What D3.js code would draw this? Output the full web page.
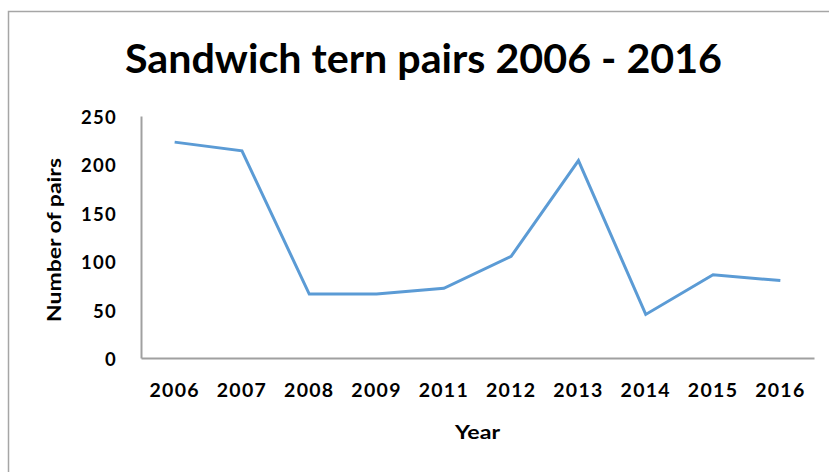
<!DOCTYPE html>
<html>
<head>
<meta charset="utf-8">
<script src="https://cdn.jsdelivr.net/npm/d3@7"></script>
<style>
  html, body { margin: 0; padding: 0; background: #fff; }
  svg { display: block; }
  text { font-family: Lato, "Open Sans", "Liberation Sans", sans-serif; font-weight: bold; fill: #000; }
</style>
</head>
<body>
<svg id="chart" width="829" height="472"></svg>
<script>
// Sandwich tern breeding pairs by year
const years = ["2006", "2007", "2008", "2009", "2011", "2012", "2013", "2014", "2015", "2016"];
const pairs = [223, 214, 66, 66, 72, 105, 204, 45, 86, 80];
const yTicks = [0, 50, 100, 150, 200, 250];

const chartTitle = "Sandwich tern pairs 2006 - 2016";
const xTitle = "Year";
const yTitle = "Number of pairs";

const svg = d3.select("#chart");
const margin = { left: 141, right: 15, top: 116, bottom: 114 };
const W = 829, H = 472;

// chart frame
svg.append("rect")
  .attr("x", 8.5).attr("y", 11.5)
  .attr("width", 830).attr("height", 470)
  .attr("fill", "#fff")
  .attr("stroke", "#a6a6a6")
  .attr("stroke-width", 1.5);

const x = d3.scaleBand()
  .domain(years)
  .range([margin.left, W - margin.right]);

const y = d3.scaleLinear()
  .domain([0, 250])
  .range([H - margin.bottom, margin.top]);

// title
svg.append("text")
  .attr("x", 125).attr("y", 73)
  .attr("textLength", 597)
  .attr("lengthAdjust", "spacingAndGlyphs")
  .style("font-size", "40px")
  .text(chartTitle);

// y axis
const yAxis = svg.append("g")
  .attr("transform", `translate(${margin.left},0)`)
  .call(d3.axisLeft(y).tickValues(yTicks).tickSize(0).tickPadding(24));
yAxis.select(".domain").attr("stroke", "#a0a0a0").attr("stroke-width", 2);
yAxis.selectAll("text")
  .style("font-size", "18.5px")
  .style("font-family", "Lato, sans-serif")
  .style("letter-spacing", "1.3px")
  .attr("dy", "0.4em");

// x axis
const xAxis = svg.append("g")
  .attr("transform", `translate(0,${H - margin.bottom})`)
  .call(d3.axisBottom(x).tickSize(0).tickPadding(33));
xAxis.select(".domain").attr("stroke", "#a0a0a0").attr("stroke-width", 2);
xAxis.selectAll("text")
  .style("font-size", "19.5px")
  .style("font-family", "Lato, sans-serif")
  .style("letter-spacing", "1.3px")
  .attr("dy", "0.3em");

// axis titles
svg.append("text")
  .attr("x", (margin.left + W - margin.right) / 2)
  .attr("y", 439)
  .attr("text-anchor", "middle")
  .attr("textLength", 45)
  .attr("lengthAdjust", "spacingAndGlyphs")
  .style("font-size", "19px")
  .text(xTitle);

svg.append("text")
  .attr("transform", "translate(61,240) rotate(-90)")
  .attr("text-anchor", "middle")
  .attr("textLength", 164)
  .attr("lengthAdjust", "spacingAndGlyphs")
  .style("font-size", "18.5px")
  .text(yTitle);

// data line
const line = d3.line()
  .x((d, i) => x(years[i]) + x.bandwidth() / 2)
  .y(d => y(d));

svg.append("path")
  .datum(pairs)
  .attr("d", line)
  .attr("fill", "none")
  .attr("stroke", "#5b9bd5")
  .attr("stroke-width", 3)
  .attr("stroke-linejoin", "miter");
</script>
</body>
</html>
